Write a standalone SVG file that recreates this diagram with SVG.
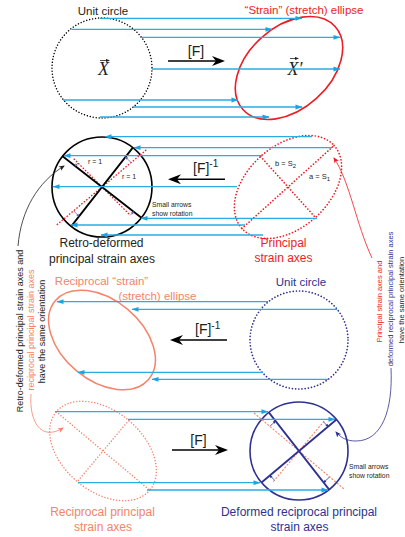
<svg xmlns="http://www.w3.org/2000/svg" width="405" height="537" viewBox="0 0 405 537">
  <style>
    .sans { font-family: "Liberation Sans", Arial, sans-serif; }
    .ser { font-family: "Liberation Serif", "Times New Roman", serif; font-style: italic; }
    .red { fill: #ed1c24; }
    .sal { fill: #f4846a; }
    .navy { fill: #2e3192; }
    .blk { fill: #231f20; }
    .flow { fill: none; stroke: #2aace2; stroke-width: 1.3; marker-end: url(#blueHead); }
    .big { fill: none; stroke: #000; stroke-width: 1.6; marker-end: url(#bigHead); }
    .dotK { fill: none; stroke: #000; stroke-width: 1.5; stroke-linecap: round; stroke-dasharray: 0.01 3; }
    .dotR { fill: none; stroke: #ed1c24; stroke-width: 1.7; stroke-linecap: round; stroke-dasharray: 0.01 3.2; }
    .dotN { fill: none; stroke: #2e3192; stroke-width: 1.7; stroke-linecap: round; stroke-dasharray: 0.01 3.2; }
    .dotS { fill: none; stroke: #f4846a; stroke-width: 1.5; stroke-linecap: round; stroke-dasharray: 0.01 3; }
    .dashR { fill: none; stroke: #ed1c24; stroke-width: 1.3; stroke-dasharray: 1.6 1.6; }
    .dashS { fill: none; stroke: #f4846a; stroke-width: 1.1; stroke-dasharray: 2 1.5; }
    .rot2 { fill: none; stroke: #6a62b8; stroke-width: 0.8; marker-end: url(#tinyP); }
    .rot4 { fill: none; stroke: #2e3192; stroke-width: 0.8; marker-end: url(#tinyN); }
  </style>
  <defs>
    <marker id="blueHead" markerUnits="userSpaceOnUse" markerWidth="8" markerHeight="6" viewBox="0 0 7 6" refX="6.5" refY="3" orient="auto">
      <path d="M0,0.6 L7,3 L0,5.4 z" fill="#1ca3e0"/>
    </marker>
    <marker id="bigHead" markerUnits="userSpaceOnUse" markerWidth="16" markerHeight="12" viewBox="-8 -6 16 12" refX="0" refY="0" orient="auto">
      <path d="M6,0 L-7,-5 L-3,0 L-7,5 z" fill="#000"/>
    </marker>
    <marker id="tinyP" markerUnits="userSpaceOnUse" markerWidth="4" markerHeight="4" viewBox="-3 -2 4 4" refX="0" refY="0" orient="auto">
      <path d="M0.5,0 L-2.5,-1.4 L-2.5,1.4 z" fill="#6a62b8"/>
    </marker>
    <marker id="tinyN" markerUnits="userSpaceOnUse" markerWidth="4" markerHeight="4" viewBox="-3 -2 4 4" refX="0" refY="0" orient="auto">
      <path d="M0.5,0 L-2.5,-1.4 L-2.5,1.4 z" fill="#2e3192"/>
    </marker>
    <marker id="headK" markerUnits="userSpaceOnUse" markerWidth="8" markerHeight="8" viewBox="-5 -4 8 8" refX="0" refY="0" orient="auto">
      <path d="M1,0 L-5,-2.6 L-3.5,0 L-5,2.6 z" fill="#231f20"/>
    </marker>
    <marker id="headR" markerUnits="userSpaceOnUse" markerWidth="8" markerHeight="8" viewBox="-5 -4 8 8" refX="0" refY="0" orient="auto">
      <path d="M1,0 L-5,-2.6 L-3.5,0 L-5,2.6 z" fill="#ed1c24"/>
    </marker>
    <marker id="headN" markerUnits="userSpaceOnUse" markerWidth="8" markerHeight="8" viewBox="-5 -4 8 8" refX="0" refY="0" orient="auto">
      <path d="M1,0 L-5,-2.6 L-3.5,0 L-5,2.6 z" fill="#2e3192"/>
    </marker>
    <marker id="headS" markerUnits="userSpaceOnUse" markerWidth="8" markerHeight="8" viewBox="-5 -4 8 8" refX="0" refY="0" orient="auto">
      <path d="M1,0 L-5,-2.6 L-3.5,0 L-5,2.6 z" fill="#f4846a"/>
    </marker>
    <marker id="vecHead" markerUnits="userSpaceOnUse" markerWidth="5" markerHeight="4" viewBox="-3 -2 4 4" refX="0" refY="0" orient="auto">
      <path d="M1,0 L-3,-1.6 L-3,1.6 z" fill="#231f20"/>
    </marker>
  </defs>

  <!-- Row 1: unit circle mapped by [F] to the strain ellipse -->
  <g id="unit-circle-1">
    <circle class="dotK" cx="102" cy="68" r="50"/>
    <text class="sans blk" x="103" y="15" font-size="11.5" text-anchor="middle">Unit circle</text>
    <text class="ser blk" x="103.5" y="75" font-size="18" text-anchor="middle">X</text>
    <path d="M100,60.5 H109" stroke="#231f20" stroke-width="0.8" marker-end="url(#vecHead)"/>
  </g>
  <g id="strain-ellipse">
    <ellipse cx="289" cy="68" rx="62" ry="41" transform="rotate(-42 289 68)" fill="none" stroke="#ed1c24" stroke-width="1.6"/>
    <text class="sans red" x="304" y="13.5" font-size="11.5" text-anchor="middle">“Strain” (stretch) ellipse</text>
    <text class="ser blk" x="295" y="75" font-size="18" text-anchor="middle">X′</text>
    <path d="M290,58.5 H298" stroke="#231f20" stroke-width="0.8" marker-end="url(#vecHead)"/>
  </g>

  <!-- Row 2: principal axes pulled back by [F]^-1 -->
  <g id="retro-deformed-circle">
    <circle cx="102" cy="187" r="50" fill="none" stroke="#000" stroke-width="1.6"/>
    <path class="dashR" d="M56.8,224.9 L147.2,149.1 M73.7,158.7 L130.3,215.3"/>
    <path d="M62.6,156.2 L141.4,217.8 M132.8,147.6 L71.2,226.4" stroke="#000" stroke-width="1.8"/>
    <path class="rot2" d="M78,163 A34,34 0 0 0 75.2,166.1"/>
    <path class="rot2" d="M131.1,162.6 A38,38 0 0 0 125.4,157.1"/>
    <path class="rot2" d="M73.7,210.8 A37,37 0 0 0 79.2,216.2"/>
    <path class="rot2" d="M130.3,215.3 A40,40 0 0 0 133.5,211.6"/>
    <text class="sans blk" x="88" y="164" font-size="7">r = 1</text>
    <text class="sans blk" x="122" y="179" font-size="7">r = 1</text>
    <text class="sans blk" x="152" y="207" font-size="6.8">Small arrows</text>
    <text class="sans blk" x="152" y="216" font-size="6.8">show rotation</text>
    <text class="sans blk" x="101.5" y="247" font-size="12" text-anchor="middle">Retro-deformed</text>
    <text class="sans blk" x="102" y="262.5" font-size="12" text-anchor="middle">principal strain axes</text>
  </g>
  <g id="principal-ellipse">
    <ellipse class="dotR" cx="288" cy="187" rx="62" ry="41" transform="rotate(-42 288 187)"/>
    <path class="dotR" d="M241.9,228.5 L334.1,145.5 M260.6,156.5 L315.4,217.5"/>
    <text class="sans blk" x="275" y="166" font-size="7.5">b = S<tspan font-size="6" dy="2">2</tspan></text>
    <text class="sans blk" x="309" y="179" font-size="7.5">a = S<tspan font-size="6" dy="2">1</tspan></text>
    <text class="sans red" x="283.5" y="247" font-size="12" text-anchor="middle">Principal</text>
    <text class="sans red" x="283.5" y="262" font-size="12" text-anchor="middle">strain axes</text>
  </g>

  <!-- Row 3: unit circle mapped by [F]^-1 to the reciprocal ellipse -->
  <g id="reciprocal-ellipse">
    <ellipse cx="102" cy="340" rx="61" ry="40" transform="rotate(40 102 340)" fill="none" stroke="#f4846a" stroke-width="1.5"/>
    <text class="sans sal" x="101.5" y="285" font-size="11.5" text-anchor="middle">Reciprocal “strain”</text>
    <text class="sans sal" x="157.5" y="300" font-size="11.5" text-anchor="middle">(stretch) ellipse</text>
  </g>
  <g id="unit-circle-2">
    <circle class="dotN" cx="299" cy="340" r="49"/>
    <text class="sans navy" x="301" y="286" font-size="11.5" text-anchor="middle">Unit circle</text>
  </g>

  <!-- Row 4: reciprocal axes carried forward by [F] -->
  <g id="reciprocal-axes">
    <ellipse class="dotS" cx="103" cy="451" rx="61" ry="40" transform="rotate(40 103 451)"/>
    <path class="dotS" d="M56.3,411.8 L149.7,490.2 M128.7,420.4 L77.3,481.6"/>
    <text class="sans sal" x="102.5" y="516" font-size="12" text-anchor="middle">Reciprocal principal</text>
    <text class="sans sal" x="103" y="531" font-size="12" text-anchor="middle">strain axes</text>
  </g>
  <g id="deformed-reciprocal-axes">
    <circle cx="299" cy="451" r="49" fill="none" stroke="#2e3192" stroke-width="1.6"/>
    <path class="dashS" d="M254,413 L344,489 M273.3,481.6 L324.7,420.4"/>
    <path d="M268.8,412.4 L329.2,489.6 M336.5,419.5 L261.5,482.5" stroke="#2e3192" stroke-width="1.8"/>
    <path class="rot4" d="M270.1,426.3 A38,38 0 0 1 275.6,421.1"/>
    <path class="rot4" d="M323.4,421.9 A38,38 0 0 1 328.1,426.6"/>
    <path class="rot4" d="M274.6,480.1 A38,38 0 0 1 269.9,475.4"/>
    <path class="rot4" d="M329.4,477 A40,40 0 0 1 323.6,482.5"/>
    <text class="sans blk" x="349" y="469" font-size="6.8">Small arrows</text>
    <text class="sans blk" x="349" y="478" font-size="6.8">show rotation</text>
    <text class="sans navy" x="299" y="516" font-size="12" text-anchor="middle">Deformed reciprocal principal</text>
    <text class="sans navy" x="299.5" y="531" font-size="12" text-anchor="middle">strain axes</text>
  </g>

  <!-- Side notes -->
  <g id="note-left" font-size="9">
    <text class="sans blk" transform="translate(23 331) rotate(-90)" text-anchor="middle">Retro-deformed principal strain axes and</text>
    <text class="sans sal" transform="translate(34 330) rotate(-90)" text-anchor="middle">reciprocal principal strain axes</text>
    <text class="sans blk" transform="translate(45 331.5) rotate(-90)" text-anchor="middle">have the same orientation</text>
  </g>
  <g id="note-right" font-size="7.5">
    <text class="sans red" transform="translate(382 301.5) rotate(-90)" text-anchor="middle">Principal strain axes and</text>
    <text class="sans navy" transform="translate(393 299) rotate(-90)" text-anchor="middle">deformed reciprocal principal strain axes</text>
    <text class="sans blk" transform="translate(404 300) rotate(-90)" text-anchor="middle">have the same orientation</text>
  </g>

  <g id="connectors">
    <!-- point mappings, row 1 -->
    <path class="flow" d="M100,18.3 H302"/>
    <path class="flow" d="M72,29.3 H272"/>
    <path class="flow" d="M140,37.3 H340"/>
    <path class="flow" d="M152,69 H340"/>
    <path class="flow" d="M63,100 H238"/>
    <path class="flow" d="M133,107 H302"/>
    <path class="flow" d="M100,117 H269"/>
    <!-- row 2 -->
    <path class="flow" d="M312,136.7 H105"/>
    <path class="flow" d="M332,147.7 H134"/>
    <path class="flow" d="M263,155.7 H64"/>
    <path class="flow" d="M237,186.7 H53"/>
    <path class="flow" d="M317,218.3 H141"/>
    <path class="flow" d="M245,225 H71"/>
    <path class="flow" d="M263,235 H101"/>
    <!-- row 3 -->
    <path class="flow" d="M268,301.7 H57"/>
    <path class="flow" d="M337,309.3 H132"/>
    <path class="flow" d="M263,372.3 H78"/>
    <path class="flow" d="M328,379.3 H152"/>
    <!-- row 4 -->
    <path class="flow" d="M55,411.7 H268"/>
    <path class="flow" d="M128,419.3 H335"/>
    <path class="flow" d="M78,482.7 H260"/>
    <path class="flow" d="M147,490 H328"/>

    <!-- deformation operators -->
    <path class="big" d="M168,61 H219"/>
    <text class="sans blk" x="196" y="56" font-size="14" text-anchor="middle">[F]</text>
    <path class="big" d="M225,179.3 H174"/>
    <text class="sans blk" x="193" y="172.5" font-size="14">[F]<tspan font-size="10" dy="-6">-1</tspan></text>
    <path class="big" d="M227,340 H176"/>
    <text class="sans blk" x="195" y="333.5" font-size="14">[F]<tspan font-size="10" dy="-5">-1</tspan></text>
    <path class="big" d="M172,450 H222"/>
    <text class="sans blk" x="198.5" y="445" font-size="14" text-anchor="middle">[F]</text>

    <!-- callouts from the side notes -->
    <path d="M18,246 C21,210 38,182 64,166" fill="none" stroke="#231f20" stroke-width="0.8" marker-end="url(#headK)"/>
    <path d="M31,394 C29,420 40,442 63,428" fill="none" stroke="#f4846a" stroke-width="0.8" marker-end="url(#headS)"/>
    <path d="M372,258 C356,224 350,182 334,158" fill="none" stroke="#ed1c24" stroke-width="0.8" marker-end="url(#headR)"/>
    <path d="M391,368 C393,410 382,441 356,441 C347,441 341,438 336,432" fill="none" stroke="#2e3192" stroke-width="0.8" marker-end="url(#headN)"/>
  </g>
</svg>
